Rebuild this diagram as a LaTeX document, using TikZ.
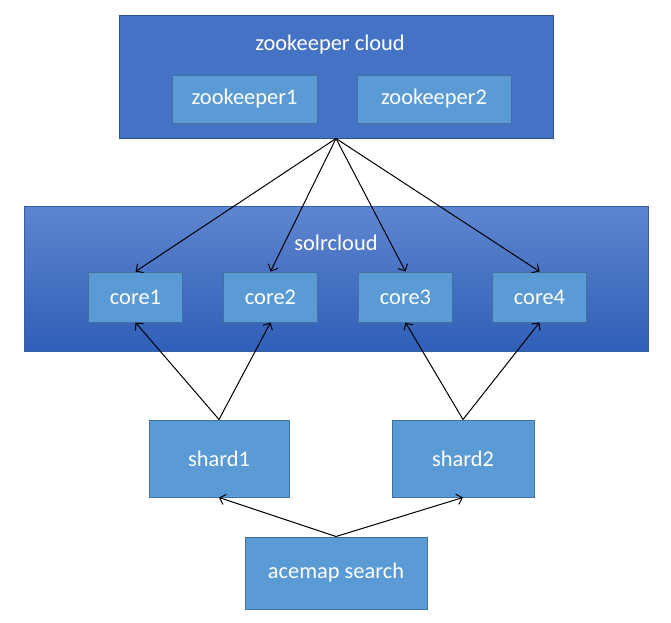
\documentclass[tikz,border=0pt]{standalone}
\usepackage{fontspec}
\setmainfont{Carlito}
\usetikzlibrary{arrows.meta}

\definecolor{cloudblue}{HTML}{4472C4}
\definecolor{cloudedge}{HTML}{2F528F}
\definecolor{solrtop}{HTML}{5E85CF}
\definecolor{solrbottom}{HTML}{2F5FB7}
\definecolor{boxblue}{HTML}{5B9BD5}
\definecolor{boxedge}{HTML}{41719C}

\tikzset{every picture/.style={line width=0.75pt}}
\tikzset{
  cloudbox/.style={draw=cloudedge, fill=cloudblue, inner sep=0pt},
  solrbox/.style={draw=cloudedge!60!cloudblue, top color=solrtop, bottom color=solrbottom, inner sep=0pt},
  itembox/.style={draw=boxedge, fill=boxblue, inner sep=0pt, text=white, font=\fontsize{16.8}{20}\selectfont},
  cloudlabel/.style={inner sep=0.75pt, text=white, font=\fontsize{16.8}{20}\selectfont},
  link/.style={-{Straight Barb[length=4pt,width=8pt]}, black}
}

\begin{document}
\begin{tikzpicture}[x=0.75pt,y=0.75pt,yscale=-1,xscale=1]
			\useasboundingbox (0,0) rectangle (671,622);

			%Shape: Rectangle [id:zkcloud]
			\node [cloudbox, minimum width=325.5pt, minimum height=92.25pt] (zkcloud) at (336,76.5) {};
			%Shape: Rectangle [id:solrcloud]
			\node [solrbox, minimum width=468pt, minimum height=108.75pt] (solr) at (336,278.5) {};

			% Text Node
			\node [cloudlabel] (zktitle) at (330,45) {zookeeper cloud};
			% Text Node
			\node [cloudlabel] (solrtitle) at (336,243) {solrcloud};

			%Shape: Rectangle [id:zk1]
			\node [itembox, minimum width=108.75pt, minimum height=36pt] (zk1) at (244.5,99) {zookeeper1};
			%Shape: Rectangle [id:zk2]
			\node [itembox, minimum width=115.5pt, minimum height=36pt] (zk2) at (434,99) {zookeeper2};

			%Shape: Rectangle [id:core1..core4]
			\node [itembox, minimum width=70.9pt, minimum height=37.5pt] (core1) at (135.5,297) {core1};
			\node [itembox, minimum width=70.9pt, minimum height=37.5pt] (core2) at (270.5,297) {core2};
			\node [itembox, minimum width=70.9pt, minimum height=37.5pt] (core3) at (405.5,297) {core3};
			\node [itembox, minimum width=70.9pt, minimum height=37.5pt] (core4) at (539.5,297) {core4};

			%Shape: Rectangle [id:shard1]
			\node [itembox, minimum width=105pt, minimum height=57.75pt] (shard1) at (219,458.5) {shard1};
			%Shape: Rectangle [id:shard2]
			\node [itembox, minimum width=106.5pt, minimum height=57.75pt] (shard2) at (463,458.5) {shard2};
			%Shape: Rectangle [id:search]
			\node [itembox, minimum width=136.5pt, minimum height=54pt] (search) at (336,573) {acemap search};

			%Straight Lines [id:zk to cores]
			\draw [link] (zkcloud.south) -- (core1.north);
			\draw [link] (zkcloud.south) -- (core2.north);
			\draw [link] (zkcloud.south) -- (core3.north);
			\draw [link] (zkcloud.south) -- (core4.north);
			%Straight Lines [id:shards to cores]
			\draw [link] (shard1.north) -- (core1.south);
			\draw [link] (shard1.north) -- (core2.south);
			\draw [link] (shard2.north) -- (core3.south);
			\draw [link] (shard2.north) -- (core4.south);
			%Straight Lines [id:search to shards]
			\draw [link] (search.north) -- (shard1.south);
			\draw [link] (search.north) -- (shard2.south);

		\end{tikzpicture}
\end{document}
